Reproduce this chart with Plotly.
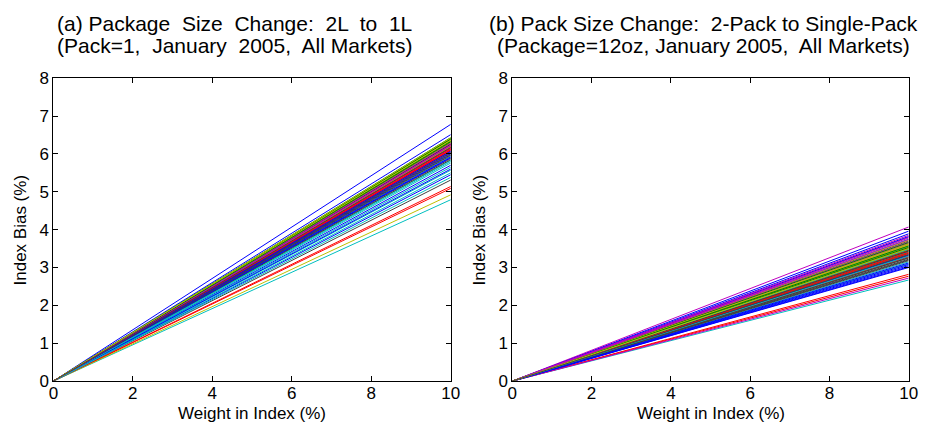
import plotly.graph_objects as go

# Weight in index (%) – x endpoints of each line
weights = [0, 10]

# Index bias (%) at weight = 10% for each product line, panel (a)
bias_a = [6.78, 6.30, 5.09, 4.79, 6.22, 4.92, 5.88,
          6.51, 6.41, 6.18, 5.57, 6.05, 6.35, 5.31,
          5.70, 6.40, 6.12, 5.94, 6.27, 6.33, 5.96,
          5.45, 6.38, 6.20, 5.83, 6.16, 6.29, 6.08,
          5.90, 6.43, 6.25, 5.76, 6.14, 6.37, 6.02,
          6.00, 6.34, 6.10, 5.65, 6.24, 6.31, 5.85,
          5.92, 6.26, 5.14, 5.50, 6.21, 6.19, 6.04,
          5.60, 6.39, 6.11, 5.80, 6.28, 6.36, 5.98,
          6.07, 6.32, 6.15, 5.38, 6.23, 6.42, 6.17]

# Index bias (%) at weight = 10% for each product line, panel (b)
bias_b = [3.96, 3.55, 2.82, 2.67, 4.07, 3.40, 3.30,
          3.89, 3.62, 2.77, 3.75, 2.72, 3.48, 3.20,
          3.05, 3.70, 3.35, 3.10, 3.58, 3.65, 3.25,
          3.00, 3.44, 3.52, 3.15, 3.80, 3.60, 3.38,
          3.82, 3.50, 3.28, 3.42, 3.68, 3.72, 3.22,
          3.12, 3.46, 3.33, 3.56, 3.63, 3.54, 3.18,
          3.02, 3.66, 3.45, 3.36, 3.85, 3.58, 3.26,
          3.32, 3.53, 3.40, 3.48, 3.78, 3.62, 3.43,
          3.08, 3.57, 3.37, 3.30, 3.74, 3.50, 3.34]

x_ticks = [0, 2, 4, 6, 8, 10]
y_ticks = [0, 1, 2, 3, 4, 5, 6, 7, 8]

title_a = ["(a) Package  Size  Change:  2L  to  1L",
           "(Pack=1,  January  2005,  All Markets)"]
title_b = ["(b) Pack Size Change:  2-Pack to Single-Pack",
           "(Package=12oz, January 2005,  All Markets)"]
x_label = "Weight in Index (%)"
y_label = "Index Bias (%)"

colors = ["rgb(0,0,255)", "rgb(0,128,0)", "rgb(255,0,0)", "rgb(0,191,191)",
          "rgb(191,0,191)", "rgb(191,191,0)", "rgb(64,64,64)"]

# the page body has an 8px margin: the figure starts at (8, 8) in the window
OFF = 8
W, H = 931 - OFF, 436 - OFF
FONT = "Liberation Sans, Arial, Helvetica, sans-serif"

def px_x(p):
    return (p - OFF) / W

def px_y(p):
    return (H - (p - OFF)) / H

fig = go.Figure()

panels = [(bias_a, "x", "y"), (bias_b, "x2", "y2")]
for bias, xa, ya in panels:
    for i, b in enumerate(bias):
        fig.add_trace(go.Scatter(
            x=weights, y=[0, b], mode="lines", xaxis=xa, yaxis=ya,
            line=dict(color=colors[i % len(colors)], width=1),
            showlegend=False, hoverinfo="skip"))

# window-pixel layout of plot areas (from the reference)
left_a, right_a = 49, 452.5
left_b, right_b = 515, 917.5
top_px, bottom_px = 72, 389

ydom = [px_y(bottom_px), px_y(top_px)]

TICKSZ = 17
axis_common = dict(
    showgrid=False, zeroline=False, showline=True, linecolor="black", linewidth=1,
    mirror="ticks", ticks="inside", ticklen=5, tickcolor="black",
    tickfont=dict(family=FONT, size=TICKSZ, color="black"),
)

fig.update_layout(
    width=W, height=H,
    margin=dict(l=0, r=0, t=0, b=0),
    paper_bgcolor="white", plot_bgcolor="white",
    font=dict(family=FONT, color="black"),
    xaxis=dict(domain=[px_x(left_a), px_x(right_a)], range=[0, 10], tickvals=x_ticks,
               ticklabelstandoff=-3, anchor="y", **axis_common),
    yaxis=dict(domain=ydom, range=[0, 8], tickvals=y_ticks,
               anchor="x", **axis_common),
    xaxis2=dict(domain=[px_x(left_b), px_x(right_b)], range=[0, 10], tickvals=x_ticks,
                ticklabelstandoff=-3, anchor="y2", **axis_common),
    yaxis2=dict(domain=ydom, range=[0, 8], tickvals=y_ticks,
                anchor="x2", **axis_common),
)

LABSZ = 17
for (a, b), ylab_x in [((left_a, right_a), 16), ((left_b, right_b), 482)]:
    fig.add_annotation(
        text=x_label, x=px_x((a + b) / 2), y=px_y(423), xref="paper", yref="paper",
        xanchor="center", yanchor="middle", showarrow=False,
        font=dict(family=FONT, size=LABSZ, color="black"))
    fig.add_annotation(
        text=y_label, x=px_x(ylab_x), y=px_y((top_px + bottom_px) / 2),
        xref="paper", yref="paper", textangle=-90,
        xanchor="center", yanchor="middle", showarrow=False,
        font=dict(family=FONT, size=LABSZ, color="black"))

for cx, lines in [(233, title_a), (709, title_b)]:
    for ypx, t in zip([15, 38], lines):
        fig.add_annotation(
            text=t, x=px_x(cx), y=px_y(ypx), xref="paper", yref="paper",
            xanchor="center", yanchor="middle", showarrow=False,
            font=dict(family=FONT, size=21, color="black"))

fig.write_html("out.html")
